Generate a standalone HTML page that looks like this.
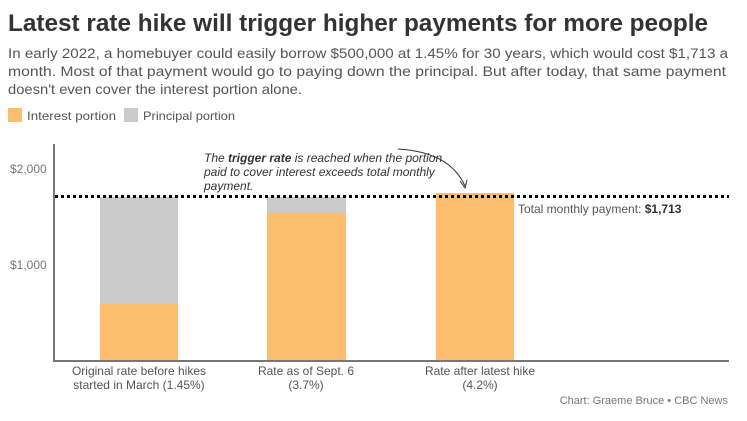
<!DOCTYPE html>
<html><head><meta charset="utf-8"><style>body{margin:0;background:#fff}svg{display:block}text{font-family:"Liberation Sans",sans-serif}</style></head>
<body>
<svg width="747" height="421" viewBox="0 0 747 421" xmlns="http://www.w3.org/2000/svg">
<text x="8" y="31" font-size="24" font-weight="bold" fill="#333" textLength="700" lengthAdjust="spacingAndGlyphs">Latest rate hike will trigger higher payments for more people</text>
<g font-size="14" fill="#555">
<text x="8" y="58" textLength="720" lengthAdjust="spacingAndGlyphs">In early 2022, a homebuyer could easily borrow $500,000 at 1.45% for 30 years, which would cost $1,713 a</text>
<text x="8" y="76" textLength="718" lengthAdjust="spacingAndGlyphs">month. Most of that payment would go to paying down the principal. But after today, that same payment</text>
<text x="8" y="94" textLength="294" lengthAdjust="spacingAndGlyphs">doesn't even cover the interest portion alone.</text>
</g>
<rect x="8" y="108" width="14" height="14" fill="#fdbd6e"/>
<text x="27" y="120" font-size="12" fill="#555" textLength="89" lengthAdjust="spacingAndGlyphs">Interest portion</text>
<rect x="124" y="108" width="14" height="14" fill="#cacaca"/>
<text x="143" y="120" font-size="12" fill="#555" textLength="92" lengthAdjust="spacingAndGlyphs">Principal portion</text>
<g font-size="12" fill="#777">
<text x="10" y="173">$2,000</text>
<text x="10" y="269">$1,000</text>
</g>
<rect x="100" y="197" width="78" height="107" fill="#cacaca"/>
<rect x="100" y="304" width="78" height="57" fill="#fdbd6e"/>
<rect x="267" y="197" width="79" height="16" fill="#cacaca"/>
<rect x="267" y="213" width="79" height="148" fill="#fdbd6e"/>
<rect x="436" y="193" width="78" height="168" fill="#fdbd6e"/>
<line x1="54" y1="144" x2="54" y2="362" stroke="#777" stroke-width="2"/>
<line x1="53" y1="361" x2="729" y2="361" stroke="#777" stroke-width="2"/>
<line x1="55" y1="196.5" x2="729" y2="196.5" stroke="#000" stroke-width="3" stroke-dasharray="3,3"/>
<g font-size="12" fill="#333" font-style="italic">
<text x="204" y="162">The <tspan font-weight="bold">trigger rate</tspan> is reached when the portion</text>
<text x="204" y="176">paid to cover interest exceeds total monthly</text>
<text x="204" y="190">payment.</text>
</g>
<path d="M398 149 Q450 152 465 186" fill="none" stroke="#333" stroke-width="1"/>
<path d="M460 181 L465 188 L467 180" fill="none" stroke="#333" stroke-width="1"/>
<text x="518" y="213" font-size="12" fill="#555">Total monthly payment: <tspan font-weight="bold" fill="#333">$1,713</tspan></text>
<g font-size="12" fill="#555" text-anchor="middle">
<text x="139" y="375">Original rate before hikes</text>
<text x="139" y="389">started in March (1.45%)</text>
<text x="306" y="375">Rate as of Sept. 6</text>
<text x="306" y="389">(3.7%)</text>
<text x="480" y="375">Rate after latest hike</text>
<text x="480" y="389">(4.2%)</text>
</g>
<text x="728" y="404" font-size="11" fill="#777" text-anchor="end">Chart: Graeme Bruce • CBC News</text>
</svg>
</body></html>
